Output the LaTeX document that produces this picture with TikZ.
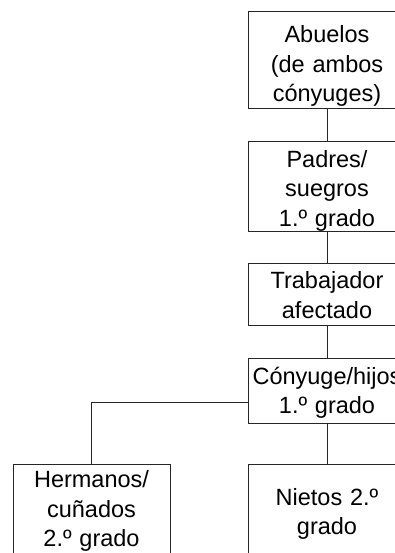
\documentclass[tikz,border=0pt]{standalone}
\usepackage{fontspec}
\setmainfont{Liberation Sans}
\begin{document}
\begin{tikzpicture}[x=1pt,y=-1pt]
            \tikzset{
              famnode/.style={draw=black!85, line width=0.8pt, minimum width=157pt,
                text width=157pt, inner sep=0pt, align=center,
                font=\fontsize{23.5}{29.5}\selectfont},
              famlink/.style={draw=black!85, line width=0.8pt},
              textdrop/.style={execute at begin node={\rule{0pt}{#1}}}
            }
            % page frame, the right and lower boxes run off it
            \useasboundingbox (0,0) rectangle (395,553);
            \clip (0,0) rectangle (395,553);
            \node[famnode, textdrop=30pt, minimum height=97pt] (abuelos) at (327, 59.5) {Abuelos\\(de ambos\\cónyuges)};
            \node[famnode, textdrop=26pt, minimum height=88pt] (padres) at (327, 186) {Padres/\\suegros\\1.º grado};
            \node[famnode, textdrop=19pt, minimum height=62pt] (trabajador) at (327, 294) {Trabajador\\afectado};
            \node[famnode, textdrop=22pt, minimum height=65pt] (conyuge) at (327, 390.5) {Cónyuge/hijos\\1.º grado};
            \node[famnode, minimum height=94pt] (hermanos) at (91.5, 511) {Hermanos/\\cuñados\\2.º grado};
            \node[famnode, textdrop=23pt, minimum height=94pt] (nietos) at (327, 511) {Nietos 2.º\\grado};
            % links
            \draw[famlink] (abuelos) -- (padres);
            \draw[famlink] (padres) -- (trabajador);
            \draw[famlink] (trabajador) -- (conyuge);
            \draw[famlink] (conyuge) -- (nietos);
            \draw[famlink] ([yshift=-11.5pt]conyuge.west) -| (hermanos.north);
        \end{tikzpicture}
\end{document}
